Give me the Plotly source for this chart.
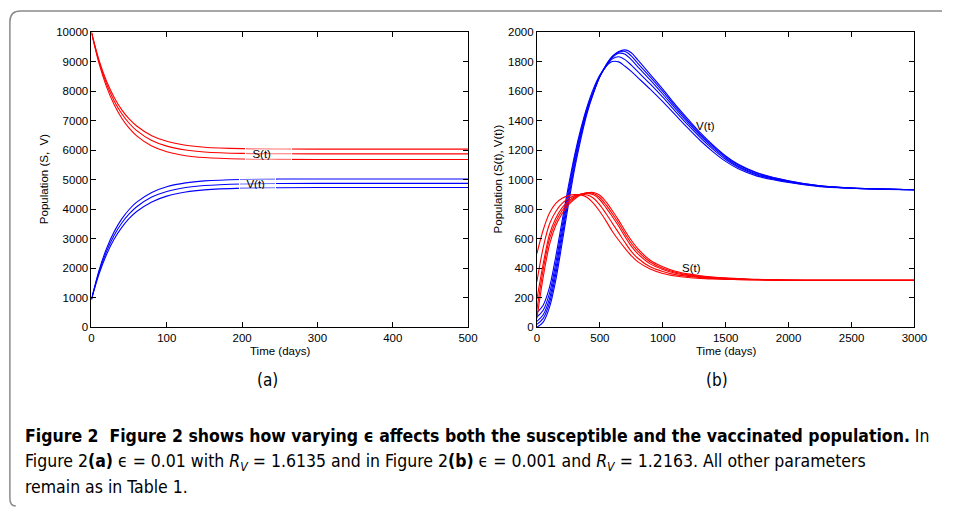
import plotly.graph_objects as go

# ---------------- data: panel (a) ----------------
t_a = [0, 10, 20, 30, 40, 50, 60, 80, 100, 125, 150, 200, 250, 300, 400, 500]
S_a1 = [10000, 9061, 8345, 7802, 7382, 7066, 6824, 6495, 6305, 6175, 6107, 6058, 6045, 6040, 6040, 6040]
S_a2 = [10000, 9007, 8253, 7685, 7248, 6918, 6667, 6333, 6142, 6012, 5946, 5896, 5884, 5880, 5880, 5880]
S_a3 = [10000, 8948, 8151, 7552, 7095, 6750, 6492, 6147, 5952, 5819, 5755, 5706, 5694, 5690, 5690, 5690]
V_a1 = [950, 1929, 2672, 3235, 3667, 3994, 4243, 4573, 4766, 4897, 4963, 5013, 5026, 5030, 5030, 5030]
V_a2 = [950, 1870, 2573, 3115, 3528, 3843, 4086, 4416, 4607, 4740, 4808, 4861, 4875, 4880, 4880, 4880]
V_a3 = [950, 1807, 2470, 2985, 3379, 3690, 3925, 4251, 4448, 4586, 4659, 4718, 4734, 4740, 4740, 4740]

# ---------------- data: panel (b) ----------------
t_b = [0, 50, 100, 150, 200, 250, 300, 350, 400, 450, 500, 550, 600, 650, 700, 750, 800,
       900, 1000, 1100, 1200, 1300, 1400, 1500, 1600, 1750, 2000, 2250, 2500, 2750, 3000]
V_b1 = [100, 150, 270, 480, 720, 955, 1170, 1350, 1500, 1620, 1710, 1770, 1802, 1800, 1770, 1735, 1695,
        1615, 1530, 1440, 1350, 1265, 1190, 1125, 1075, 1025, 982, 954, 943, 937, 933]
V_b2 = [70, 115, 230, 435, 680, 925, 1150, 1335, 1490, 1605, 1702, 1770, 1820, 1835, 1815, 1778, 1735,
        1650, 1560, 1465, 1372, 1285, 1207, 1138, 1085, 1033, 986, 956, 943, 937, 933]
V_b3 = [40, 85, 195, 395, 645, 895, 1125, 1318, 1475, 1595, 1700, 1772, 1828, 1858, 1852, 1815, 1768,
        1678, 1582, 1483, 1388, 1298, 1218, 1148, 1092, 1038, 989, 957, 944, 937, 933]
V_b4 = [20, 60, 165, 360, 610, 865, 1100, 1300, 1467, 1593, 1700, 1778, 1835, 1866, 1870, 1840, 1792,
        1698, 1600, 1498, 1400, 1309, 1228, 1156, 1100, 1044, 992, 959, 944, 937, 933]
V_b5 = [0, 35, 135, 320, 570, 830, 1075, 1280, 1455, 1588, 1700, 1780, 1838, 1870, 1881, 1862, 1815,
        1715, 1615, 1510, 1412, 1318, 1235, 1162, 1105, 1048, 994, 960, 945, 937, 933]
S_b1 = [500, 660, 775, 840, 875, 893, 900, 898, 880, 840, 785, 720, 650, 590, 535, 485, 445,
        395, 365, 348, 338, 332, 328, 325, 323, 321, 319, 318, 318, 318, 318]
S_b2 = [310, 540, 700, 785, 840, 872, 893, 902, 897, 875, 830, 770, 705, 640, 575, 515, 470,
        410, 378, 357, 345, 337, 331, 327, 325, 322, 319, 318, 318, 318, 318]
S_b3 = [190, 430, 630, 740, 810, 855, 885, 903, 908, 898, 865, 810, 750, 685, 615, 550, 500,
        430, 392, 367, 352, 342, 335, 330, 327, 323, 319, 318, 318, 318, 318]
S_b4 = [120, 390, 600, 715, 790, 843, 878, 902, 912, 907, 880, 830, 770, 705, 635, 570, 518,
        443, 400, 373, 356, 345, 338, 332, 329, 324, 320, 318, 318, 318, 318]
S_b5 = [60, 340, 560, 690, 770, 830, 870, 898, 912, 914, 895, 850, 790, 725, 655, 590, 535,
        455, 410, 380, 362, 350, 341, 335, 331, 325, 320, 318, 318, 318, 318]

xt_a = [0, 100, 200, 300, 400, 500]
yt_a = [0, 1000, 2000, 3000, 4000, 5000, 6000, 7000, 8000, 9000, 10000]
xt_b = [0, 500, 1000, 1500, 2000, 2500, 3000]
yt_b = [0, 200, 400, 600, 800, 1000, 1200, 1400, 1600, 1800, 2000]

RED = "#ff0000"
BLUE = "#0000ff"
W, H = 955, 512
AX_FONT = "Liberation Sans, Arial, Helvetica, sans-serif"
CAP_FONT = "Liberation Sans Narrow, DejaVu Sans Condensed, Liberation Sans, sans-serif"

fig = go.Figure()

def add(x, y, color, xa, ya):
    fig.add_trace(go.Scatter(x=x, y=y, mode="lines", xaxis=xa, yaxis=ya,
                             line=dict(color=color, width=1.1, shape="spline", smoothing=0.9),
                             showlegend=False, hoverinfo="skip"))

for s in (S_a1, S_a2, S_a3):
    add(t_a, s, RED, "x", "y")
for v in (V_a1, V_a2, V_a3):
    add(t_a, v, BLUE, "x", "y")
for v in (V_b1, V_b2, V_b3, V_b4, V_b5):
    add(t_b, v, BLUE, "x2", "y2")
for s in (S_b1, S_b2, S_b3, S_b4, S_b5):
    add(t_b, s, RED, "x2", "y2")

def px_x(p):
    return p / W

def px_y(p):
    return 1 - p / H

axis_common = dict(showline=True, linecolor="black", linewidth=1, mirror="ticks",
                   ticks="inside", ticklen=5, tickwidth=1, tickcolor="black",
                   showgrid=False, zeroline=False, tickformat="d",
                   tickfont=dict(family=AX_FONT, size=11.5, color="black"))

fig.update_layout(
    width=W, height=H, margin=dict(l=0, r=0, t=0, b=0),
    paper_bgcolor="white", plot_bgcolor="white",
    xaxis=dict(domain=[px_x(90), px_x(473)], range=[0, 500], tickvals=xt_a, anchor="y", **axis_common),
    yaxis=dict(domain=[px_y(329), px_y(27)], range=[0, 10000], tickvals=yt_a, anchor="x", **axis_common),
    xaxis2=dict(domain=[px_x(543), px_x(927)], range=[0, 3000], tickvals=xt_b, anchor="y2", **axis_common),
    yaxis2=dict(domain=[px_y(329), px_y(27)], range=[0, 2000], tickvals=yt_b, anchor="x2", **axis_common),
)

ann = []
def text(x, y, s, size=11.5, font=AX_FONT, angle=0, xanchor="center", yanchor="middle", **kw):
    ann.append(dict(x=x, y=y, xref="paper", yref="paper", text=s, showarrow=False,
                    textangle=angle, xanchor=xanchor, yanchor=yanchor,
                    font=dict(family=font, size=size, color="black"), **kw))

# axis titles
text(px_x(282), px_y(353), "Time (days)")
text(px_x(735), px_y(353), "Time (days)")
text(px_x(42), px_y(177), "Population (S,\u00a0 V)", angle=-90)
text(px_x(503), px_y(177), "Population (S(t), V(t))", angle=-90)

# curve labels
ann.append(dict(x=203.7, y=5894, xref="x", yref="y", text="\u00a0\u00a0S(t)", showarrow=False,
                xanchor="left", yanchor="middle", align="left", width=45, height=15,
                bgcolor="rgba(255,255,255,0.45)", bordercolor="white", borderwidth=1, borderpad=0,
                font=dict(family=AX_FONT, size=11.5, color="black")))
ann.append(dict(x=196, y=4870, xref="x", yref="y", text="\u00a0\u00a0V(t)", showarrow=False,
                xanchor="left", yanchor="middle", align="left", width=35, height=11,
                bgcolor="rgba(255,255,255,0.45)", bordercolor="white", borderwidth=1, borderpad=0,
                font=dict(family=AX_FONT, size=11.5, color="black")))
ann.append(dict(x=1336, y=1364, xref="x2", yref="y2", text="V(t)", showarrow=False,
                font=dict(family=AX_FONT, size=11.5, color="black")))
ann.append(dict(x=1227, y=404, xref="x2", yref="y2", text="S(t)", showarrow=False,
                font=dict(family=AX_FONT, size=11.5, color="black")))

# panel labels
text(px_x(269), px_y(383), "(a)", size=17, font=CAP_FONT)
text(px_x(726), px_y(383), "(b)", size=17, font=CAP_FONT)

# caption
cap1 = ("<b>Figure 2\u00a0\u00a0Figure 2 shows how varying \u03f5 affects both the susceptible "
        "and the vaccinated population.</b> In")
cap2 = ("Figure 2<b>(a)</b> \u03f5 = 0.01 with <i>R</i><sub><i>V</i></sub> = 1.6135 and in "
        "Figure 2<b>(b)</b> \u03f5 = 0.001 and <i>R</i><sub><i>V</i></sub> = 1.2163. All other parameters")
cap3 = "remain as in Table 1."
text(px_x(20), px_y(440), cap1, size=17.5, font=CAP_FONT, xanchor="left")
text(px_x(20), px_y(467), cap2, size=17.5, font=CAP_FONT, xanchor="left")
text(px_x(20), px_y(493), cap3, size=17.5, font=CAP_FONT, xanchor="left")

fig.update_layout(annotations=ann)

# rounded frame (kept inside the canvas)
def P(x, y):
    return f"{x / W:.5f},{1 - y / H:.5f}"
frame = (f"M {P(955, 5)} L {P(18, 5)} Q {P(7, 5)} {P(7, 16)} "
         f"L {P(7, 504)} Q {P(7, 512)} {P(13, 512)}")
fig.add_shape(type="path", path=frame, xref="paper", yref="paper",
              line=dict(color="#8a8a8a", width=1.5), layer="below")

fig.write_html("out.html", config={"responsive": False, "displayModeBar": False},
               post_script="document.body.style.margin='0px';document.body.style.overflow='hidden';")
